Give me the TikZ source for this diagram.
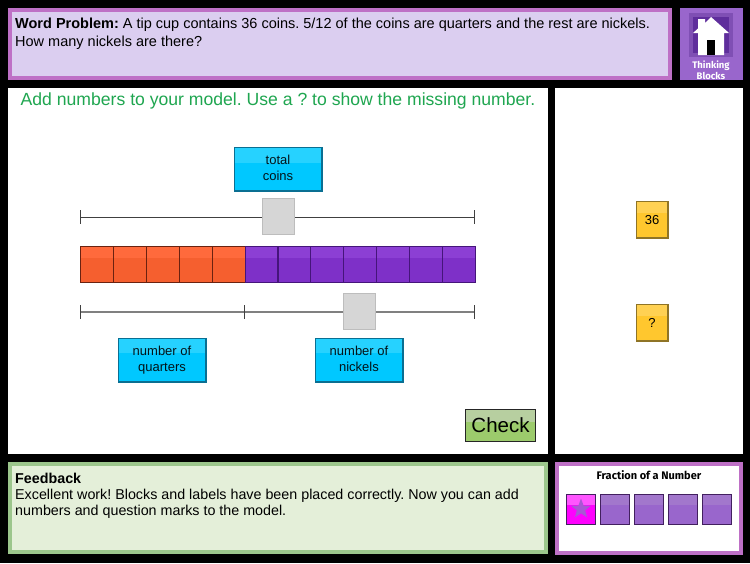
\documentclass[tikz,border=0pt]{standalone}
\usepackage{fontspec}
\setmainfont{Liberation Sans}
\newfontfamily\blockfont{Fira Sans}
\usetikzlibrary{shapes.geometric,calc}
\definecolor{panelpurple}{HTML}{BE70C6}
\definecolor{lilac}{HTML}{DBCEF0}
\definecolor{homepurple}{HTML}{9966CC}
\definecolor{homedark}{HTML}{5F2E9C}
\definecolor{homebevel}{HTML}{7F4FB4}
\definecolor{fbborder}{HTML}{9CC68C}
\definecolor{fbfill}{HTML}{E4EFD9}
\definecolor{instr}{HTML}{1FA650}
\definecolor{redblock}{HTML}{F55F2F}
\definecolor{redtop}{HTML}{FF6A3C}
\definecolor{redline}{HTML}{6A2210}
\definecolor{vioblock}{HTML}{7E30C8}
\definecolor{viotop}{HTML}{8C3FD4}
\definecolor{violine}{HTML}{45157A}
\definecolor{cyanblock}{HTML}{00C8FF}
\definecolor{cyantop}{HTML}{26D2FF}
\definecolor{cyanline}{HTML}{0B6E92}
\definecolor{cyanlow}{HTML}{0A6F92}
\definecolor{yellowblock}{HTML}{FFC72E}
\definecolor{yellowtop}{HTML}{FFD153}
\definecolor{yellowlow}{HTML}{8F7426}
\definecolor{slotgray}{HTML}{D6D6D6}
\definecolor{slotline}{HTML}{BDBDBD}
\definecolor{checkfill}{HTML}{9CCB6C}
\definecolor{checktop}{HTML}{B7CFA0}
\definecolor{tilepurple}{HTML}{9966CC}
\definecolor{tiletop}{HTML}{A277CC}
\definecolor{tileline}{HTML}{42205F}
\definecolor{magenta1}{HTML}{FF00FF}
\definecolor{magenta2}{HTML}{FF55FF}
\tikzset{
  panel/.style={anchor=north west,inner sep=0pt,outer sep=0pt,line width=4pt},
  bevelled/.style n args={4}{draw=#4,fill=#1,line width=.8pt,inner sep=0pt,
    path picture={
      \fill[#2] (path picture bounding box.north west) rectangle
        ([yshift=#3]path picture bounding box.east);
      \fill[#4] ([yshift=1.2pt]path picture bounding box.south west) rectangle
        (path picture bounding box.south east);
      \fill[#4] ([xshift=-1pt]path picture bounding box.south east) rectangle
        (path picture bounding box.north east);}},
  block/.style n args={3}{draw=#3,fill=#1,line width=.9pt,inner sep=0pt,minimum width=32.9pt,minimum height=36pt,
    path picture={\fill[#2] (path picture bounding box.north west) rectangle
      ([yshift=6pt]path picture bounding box.east);}},
  labelbox/.style={bevelled={cyanblock}{cyantop}{7pt}{cyanlow},minimum width=88pt,minimum height=44pt,
    align=center,font=\fontsize{13}{16}\selectfont,text=black!82!cyanline},
  numbox/.style={bevelled={yellowblock}{yellowtop}{7pt}{yellowlow},minimum width=32pt,minimum height=36.5pt,
    font=\fontsize{13}{16}\selectfont},
  slot/.style={draw=slotline,fill=slotgray,line width=.7pt,minimum width=32pt,minimum height=36.5pt,inner sep=0pt},
  measure/.style={draw=black!75,line width=.8pt},
  tile/.style n args={2}{draw=tileline,fill=#1,line width=.9pt,minimum width=29.5pt,minimum height=29.5pt,inner sep=0pt,
    path picture={\fill[#2] (path picture bounding box.north west) rectangle
      ([yshift=5pt]path picture bounding box.east);}},
  body/.style={anchor=north west,inner sep=0pt,align=left},
}
\begin{document}
\frenchspacing
\begin{tikzpicture}[x=1pt,y=-1pt]
\useasboundingbox (0,0) rectangle (750,563);
\fill[black] (0,0) rectangle (750,563);
% panels
\node[panel,draw=panelpurple,fill=lilac,minimum width=660pt,minimum height=68pt] (problem) at (10,10) {};
\node[panel,fill=homepurple,minimum width=63pt,minimum height=72pt] (home) at (680,8) {};
\node[panel,fill=white,minimum width=540pt,minimum height=366pt] (main) at (8,88) {};
\node[panel,fill=white,minimum width=188pt,minimum height=366pt] (tray) at (555,88) {};
\node[panel,draw=fbborder,fill=fbfill,minimum width=536pt,minimum height=88pt] (feedback) at (10,464) {};
\node[panel,draw=panelpurple,fill=white,minimum width=184pt,minimum height=89pt] (menu) at (557,464) {};
% texts
\node[body,font=\fontsize{14.5}{18}\selectfont] (wp) at (15,18) {\textbf{Word Problem:} A tip cup contains 36 coins. 5/12 of the coins are quarters and the rest are nickels.\\How many nickels are there?};
\node[anchor=center,inner sep=0pt,text=instr,font=\fontsize{17.6}{20}\selectfont] (instruction) at (278,101) {Add numbers to your model. Use a ? to show the missing number.};
\node[body,font=\fontsize{14.3}{16}\selectfont] (fb) at (15,473) {\textbf{Feedback}\\Excellent work! Blocks and labels have been placed correctly. Now you can add\\numbers and question marks to the model.};
% home icon
\fill[homebevel] (689,13) rectangle (733,57);
\fill[homedark] (693,17) rectangle (729,53);
\fill[white] (698,19) -- (705,19) -- (705,23) -- (711,17) -- (729,33) -- (724,33) -- (724,55) -- (698,55) -- (698,33) -- (693,33) -- (698,28.5) -- cycle;
\fill[black] (707,40) rectangle (715,55);
\node[inner sep=0pt,align=center,text=white,font=\blockfont\bfseries\fontsize{9.5}{10.5}\selectfont] (hometext) at (711,70) {Thinking\\Blocks};
% label boxes
\node[labelbox] (total) at (278,169.5) {total\\coins\\[-12pt]\mbox{}};
\node[labelbox] (quarters) at (162,360) {number of\\quarters\\[-14pt]\mbox{}};
\node[labelbox] (nickels) at (359,360) {number of\\nickels\\[-14pt]\mbox{}};
% top measure
\coordinate (tl) at (80,217); \coordinate (tr) at (474,217);
\draw[measure] (tl) -- (tr);
\draw[measure] ([yshift=7pt]tl) -- ([yshift=-7pt]tl);
\draw[measure] ([yshift=7pt]tr) -- ([yshift=-7pt]tr);
\node[slot] (slottop) at (278,216.5) {};
% blocks
\foreach \i in {0,...,4}
  \node[block={redblock}{redtop}{redline},anchor=north west] (b\i) at ({79.8+32.95*\i},246) {};
\foreach \i in {5,...,11}
  \node[block={vioblock}{viotop}{violine},anchor=north west] (b\i) at ({79.8+32.95*\i},246) {};
% lower measure
\coordinate (ll) at (80,312); \coordinate (lm) at (244,312); \coordinate (lr) at (474,312);
\draw[measure,draw=black!50,line width=1.1pt] (ll) -- (lm) -- (lr);
\foreach \c in {ll,lm,lr}
  \draw[measure] ([yshift=7pt]\c) -- ([yshift=-7pt]\c);
\node[slot] (slotlow) at (359.5,311.5) {};
% number tiles
\node[numbox] (n36) at (652,220) {36};
\node[numbox] (nq) at (652,323) {?};
% check
\node[draw=black!85,fill=checkfill,line width=1pt,minimum width=70pt,minimum height=32pt,inner sep=0pt,
  font=\fontsize{20.5}{24}\selectfont,
  path picture={\fill[checktop] (path picture bounding box.north west) rectangle
   ([yshift=3pt]path picture bounding box.east);}] (check) at (500.5,425) {Check};
% menu
\node[inner sep=0pt,font=\blockfont\bfseries\fontsize{11}{12}\selectfont] (menutitle) at (649,475.5) {Fraction of a Number};
\node[tile={magenta1}{magenta2}] (t0) at (581,509.5) {};
\node[star,star points=5,star point ratio=2.4,fill=homepurple!85!magenta1,inner sep=0pt,minimum size=21pt] (starshape) at (581,509) {};
\node[tile={tilepurple}{tiletop}] (t1) at (615,509.5) {};
\node[tile={tilepurple}{tiletop}] (t2) at (649,509.5) {};
\node[tile={tilepurple}{tiletop}] (t3) at (683,509.5) {};
\node[tile={tilepurple}{tiletop}] (t4) at (717,509.5) {};
\end{tikzpicture}
\end{document}
